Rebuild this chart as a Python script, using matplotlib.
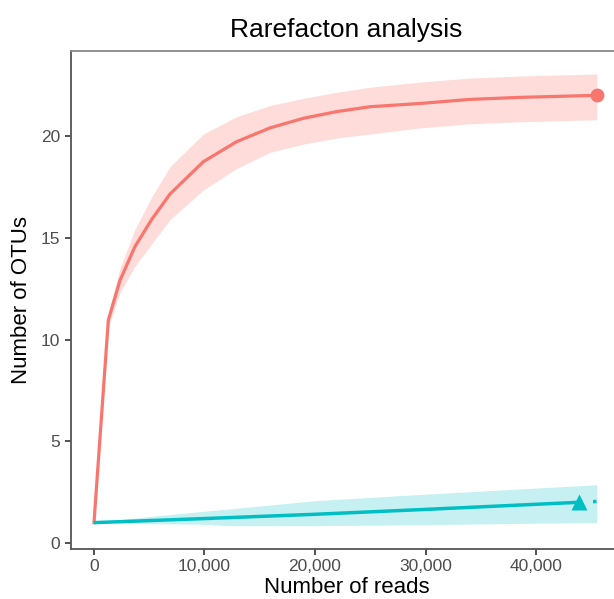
import numpy as np
import matplotlib
matplotlib.use("Agg")
import matplotlib.pyplot as plt
from matplotlib.ticker import FuncFormatter

plt.rcParams["font.family"] = ["Liberation Sans", "DejaVu Sans"]

# ── Data ───────────────────────────────────────────────────────────────────────
red_reads = [0, 1300, 2350, 3700, 5220, 6880, 9900, 12900, 15930, 18940,
             21960, 24980, 29500, 34000, 38550, 45500]
red_otus = [1, 10.96, 12.9, 14.56, 15.9, 17.15, 18.74, 19.72, 20.4, 20.87,
            21.2, 21.44, 21.6, 21.8, 21.9, 22.0]
red_lo = [1, 10.6, 12.3, 13.6, 14.7, 15.9, 17.35, 18.4, 19.2, 19.6,
          19.9, 20.1, 20.4, 20.6, 20.7, 20.8]
red_hi = [1, 11.3, 13.5, 15.4, 17.0, 18.5, 20.1, 20.95, 21.5, 21.85,
          22.15, 22.4, 22.65, 22.85, 22.95, 23.05]

teal_reads = [0, 10000, 20000, 30000, 43900]
teal_otus = [1, 1.2, 1.41, 1.65, 2.0]
teal_extra_reads = [43900, 45500]
teal_extra_otus = [2.0, 2.04]
teal_band_reads = [0, 5000, 10000, 12000, 20000, 30000, 40000, 45500]
teal_lo = [1.0, 0.95, 0.92, 0.85, 0.85, 0.9, 0.97, 1.0]
teal_hi = [1.0, 1.3, 1.56, 1.66, 2.08, 2.4, 2.7, 2.86]

x_ticks = [0, 10000, 20000, 30000, 40000]
y_ticks = [0, 5, 10, 15, 20]

RED = "#F8766D"
TEAL = "#00BFC4"

# ── Plot ───────────────────────────────────────────────────────────────────────
fig = plt.figure(figsize=(6.14, 5.99), dpi=100)
ax = fig.add_axes([0.1151, 0.0835, 0.898, 0.8314])

ax.fill_between(red_reads, red_lo, red_hi, color=RED, alpha=0.25, lw=0)
ax.fill_between(teal_band_reads, teal_lo, teal_hi, color=TEAL, alpha=0.22, lw=0)

ax.plot(red_reads, red_otus, color=RED, lw=2.3, solid_joinstyle="round")
ax.plot(teal_reads, teal_otus, color=TEAL, lw=2.5, solid_capstyle="butt")
ax.plot(teal_extra_reads, teal_extra_otus, color=TEAL, lw=2.5, ls=(0, (1, 3)))

ax.plot(red_reads[-1], red_otus[-1], "o", color=RED, ms=10, mec="none")
ax.plot(teal_reads[-1], teal_otus[-1], "^", color=TEAL, ms=12, mec="none")

ax.set_xlim(-2109, 47780)
ax.set_ylim(-0.295, 24.18)
ax.set_xticks(x_ticks)
ax.set_yticks(y_ticks)
ax.xaxis.set_major_formatter(FuncFormatter(lambda v, p: f"{int(v):,}"))

for side in ["left", "bottom"]:
    ax.spines[side].set_color("#555555")
    ax.spines[side].set_linewidth(1.3)
for side in ["top", "right"]:
    ax.spines[side].set_color("#888888")
    ax.spines[side].set_linewidth(1.3)

ax.tick_params(axis="both", colors="#333333", labelcolor="#4D4D4D",
               labelsize=12.5, length=4, width=1.2)

ax.set_xlabel("Number of reads", fontsize=16, color="black", labelpad=2)
ax.set_ylabel("Number of OTUs", fontsize=16, color="black", labelpad=6)
ax.set_title("Rarefacton analysis", fontsize=19, color="black", pad=10)

plt.savefig("out.png", dpi=100)
plt.close()
